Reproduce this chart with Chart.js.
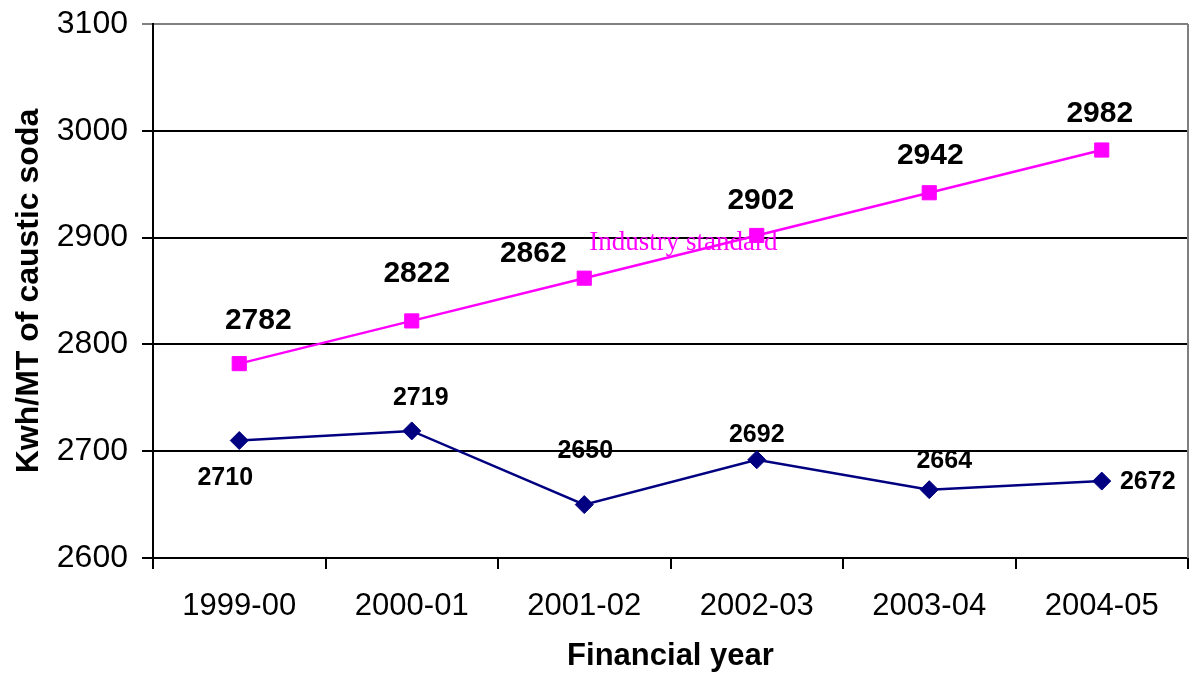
<!DOCTYPE html>
<html>
<head>
<meta charset="utf-8">
<script src="https://cdn.jsdelivr.net/npm/chart.js@4.4.1/dist/chart.umd.min.js"></script>
<style>
  html, body { margin: 0; padding: 0; background: #fff; }
  #wrap { width: 1199px; height: 674px; position: relative; }
</style>
</head>
<body>
<div id="wrap"><canvas id="energyChart"></canvas></div>
<script>
var years = ['1999-00', '2000-01', '2001-02', '2002-03', '2003-04', '2004-05'];
var industryStandard = [2782, 2822, 2862, 2902, 2942, 2982];
var actualConsumption = [2710, 2719, 2650, 2692, 2664, 2672];
var yTicks = [2600, 2700, 2800, 2900, 3000, 3100];

var FONT = "Arial, 'Liberation Sans', sans-serif";

// where each value label sits relative to its point (dx, dy in px)
var labelOffsets = [
    [[19, -43], [5, -47], [-51, -24], [4, -35], [1, -37], [-2, -36]],
    [[-14, 38], [9, -33], [1, -53], [0, -25], [15, -29], [46, 1]]
];
var labelFonts = ['bold 30px ' + FONT, 'bold 25px ' + FONT];

var valueLabels = {
    id: 'valueLabels',
    afterDatasetsDraw: function (chart) {
        var ctx = chart.ctx;
        ctx.save();
        ctx.fillStyle = '#000';
        ctx.textAlign = 'center';
        ctx.textBaseline = 'middle';
        chart.data.datasets.forEach(function (ds, di) {
            var meta = chart.getDatasetMeta(di);
            ctx.font = labelFonts[di];
            meta.data.forEach(function (pt, i) {
                var off = labelOffsets[di][i];
                ctx.fillText(String(ds.data[i]), pt.x + off[0], pt.y + off[1]);
            });
        });

        // series caption
        var xs = chart.scales.x, ys = chart.scales.y;
        ctx.font = '27px "Liberation Serif", "Times New Roman", serif';
        ctx.fillStyle = '#ff00ff';
        ctx.textAlign = 'left';
        ctx.fillText('Industry standard', xs.getPixelForValue(2) + 5, ys.getPixelForValue(2895));

        // right frame line
        var a = chart.chartArea;
        ctx.strokeStyle = '#808080';
        ctx.lineWidth = 2;
        ctx.beginPath();
        ctx.moveTo(a.right, a.top);
        ctx.lineTo(a.right, a.bottom);
        ctx.stroke();
        ctx.restore();
    }
};

var lineData = {
    labels: years,
    datasets: [
        {
            label: 'Industry standard',
            data: industryStandard,
            borderColor: '#ff00ff',
            backgroundColor: '#ff00ff',
            borderWidth: 2.5,
            pointStyle: 'rect',
            pointRadius: 10,
            pointBorderWidth: 1,
            pointBorderColor: '#ff00ff',
            pointBackgroundColor: '#ff00ff',
            tension: 0
        },
        {
            label: 'Actual',
            data: actualConsumption,
            borderColor: '#000080',
            backgroundColor: '#000080',
            borderWidth: 2.5,
            pointStyle: 'rectRot',
            pointRadius: 9,
            pointBorderWidth: 1,
            pointBorderColor: '#000080',
            pointBackgroundColor: '#000080',
            tension: 0
        }
    ]
};

var lineOptions = {
    responsive: true,
    maintainAspectRatio: false,
    animation: false,
    layout: { padding: { left: 0, top: 24, right: 2, bottom: 0 } },
    plugins: {
        legend: { display: false },
        tooltip: { enabled: false }
    },
    scales: {
        x: {
            offset: true,
            grid: {
                offset: true,
                drawOnChartArea: false,
                color: '#000',
                lineWidth: 2,
                tickLength: 11
            },
            border: { color: '#000', width: 2 },
            ticks: {
                color: '#000',
                font: { family: FONT, size: 31 },
                padding: 19,
                maxRotation: 0
            },
            title: {
                display: true,
                text: 'Financial year',
                color: '#000',
                font: { family: FONT, size: 31, weight: 'bold', lineHeight: 1.1 },
                padding: { top: 0, bottom: 0 }
            },
            afterFit: function (scale) {
                scale.height = 116;
                scale.paddingLeft = 0;
                scale.paddingRight = 0;
            }
        },
        y: {
            min: 2600,
            max: 3100,
            afterBuildTicks: function (scale) {
                scale.ticks = yTicks.map(function (v) { return { value: v }; });
            },
            grid: {
                color: function (c) { return c.tick && c.tick.value === 3100 ? '#808080' : '#000'; },
                lineWidth: 2,
                tickLength: 11
            },
            border: { color: '#000', width: 2 },
            ticks: {
                color: '#000',
                font: { family: FONT, size: 32 },
                padding: 14,
                callback: function (v) { return String(v); }
            },
            title: {
                display: true,
                text: 'Kwh/MT of caustic soda',
                color: '#000',
                font: { family: FONT, size: 32, weight: 'bold' },
                padding: { top: 10, bottom: 0 }
            },
            afterFit: function (scale) {
                scale.width = 153;
                scale.paddingTop = 0;
                scale.paddingBottom = 0;
            }
        }
    }
};

var drawLineGraph = document.getElementById('energyChart').getContext('2d');
new Chart(drawLineGraph, { type: 'line', data: lineData, options: lineOptions, plugins: [valueLabels] });
</script>
</body>
</html>
